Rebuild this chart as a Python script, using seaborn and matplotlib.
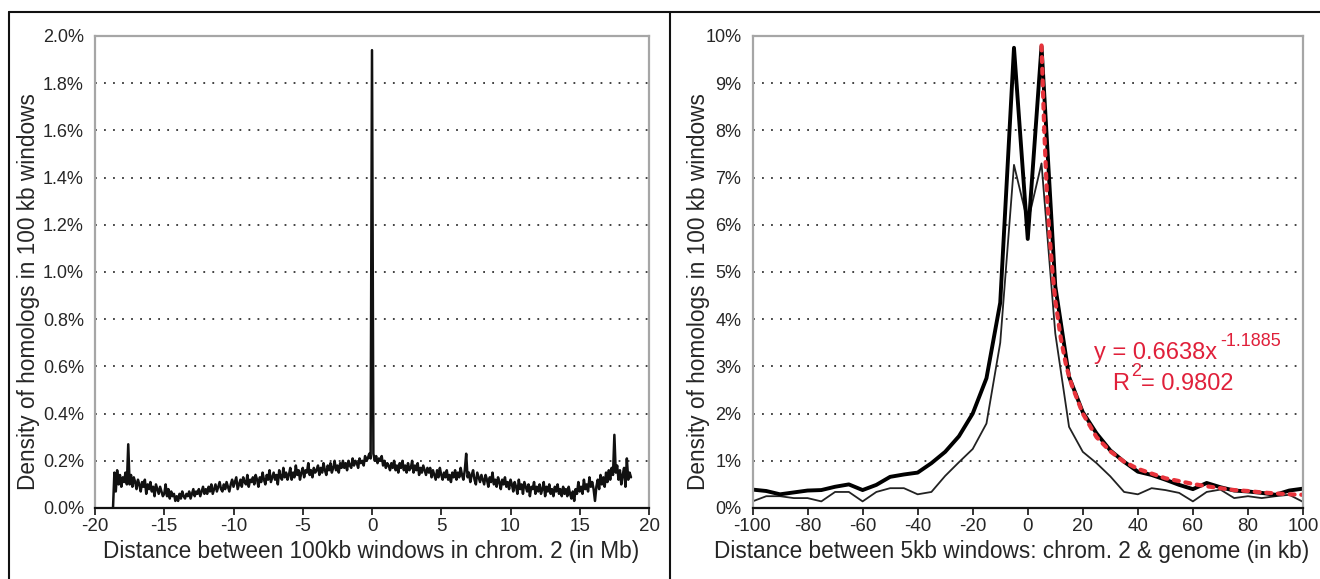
import numpy as np
import pandas as pd
import matplotlib
matplotlib.use("Agg")
import matplotlib.pyplot as plt
from matplotlib.lines import Line2D
import seaborn as sns

# ---------------- data ----------------
# Left panel: density (%) of homologs vs distance (Mb), 100 kb steps from -18.7 to 18.7
left_step_mb = 0.1
left_density = [
    0.00,
    0.15, 0.07, 0.16, 0.10, 0.14, 0.09, 0.13, 0.11, 0.15, 0.10,
    0.27,
    0.10, 0.14, 0.09, 0.13, 0.11, 0.08, 0.12, 0.10, 0.07, 0.11, 0.09, 0.12, 0.06,
    0.10, 0.08, 0.11, 0.07, 0.09, 0.05, 0.10, 0.08, 0.06, 0.09, 0.07, 0.05,
    0.06, 0.10, 0.05, 0.08, 0.04, 0.07, 0.05, 0.06, 0.03, 0.05,
    0.03, 0.06, 0.04, 0.07, 0.05, 0.04, 0.06, 0.05, 0.07, 0.04, 0.06, 0.08, 0.05, 0.07, 0.06, 0.08, 0.05, 0.07, 0.09, 0.06,
    0.08, 0.06, 0.09, 0.07, 0.10, 0.06, 0.08, 0.10, 0.07, 0.09, 0.11, 0.08, 0.07, 0.10, 0.08, 0.11, 0.09, 0.07, 0.10, 0.12,
    0.09, 0.11, 0.13, 0.08, 0.10, 0.12, 0.09, 0.13, 0.11, 0.10, 0.14, 0.09, 0.12, 0.11, 0.13, 0.10, 0.14, 0.12, 0.09, 0.13,
    0.11, 0.15, 0.12, 0.10, 0.14, 0.12, 0.16, 0.11, 0.13, 0.15, 0.12, 0.14, 0.10, 0.16, 0.13, 0.12, 0.17, 0.13, 0.15, 0.12,
    0.14, 0.17, 0.12, 0.15, 0.13, 0.18, 0.14, 0.16, 0.12, 0.15, 0.17, 0.13, 0.16, 0.15, 0.19, 0.14, 0.16, 0.13, 0.17, 0.15,
    0.16, 0.18, 0.14, 0.17, 0.15, 0.19, 0.16, 0.14, 0.18, 0.16, 0.19, 0.15, 0.17, 0.20, 0.16, 0.18, 0.15, 0.19, 0.17, 0.20,
    0.17, 0.19, 0.16, 0.20, 0.18, 0.17, 0.21, 0.18, 0.20, 0.19, 0.17, 0.21, 0.19, 0.20, 0.18, 0.22, 0.20, 0.21, 0.23, 0.21,
    1.94,
    0.23, 0.20, 0.22, 0.19, 0.21, 0.20, 0.22, 0.18, 0.20, 0.17, 0.19, 0.18, 0.16, 0.19, 0.17, 0.20, 0.16, 0.18, 0.15, 0.19,
    0.17, 0.20, 0.16, 0.18, 0.15, 0.19, 0.16, 0.17, 0.20, 0.15, 0.18, 0.16, 0.19, 0.14, 0.17, 0.15, 0.18, 0.16, 0.14, 0.17,
    0.15, 0.17, 0.13, 0.16, 0.14, 0.12, 0.16, 0.13, 0.17, 0.14, 0.12, 0.15, 0.13, 0.16, 0.12, 0.14, 0.11, 0.15, 0.13, 0.16,
    0.12, 0.15, 0.13, 0.17, 0.14, 0.12, 0.16, 0.23, 0.13, 0.15, 0.11, 0.14, 0.16, 0.12, 0.10, 0.15, 0.13, 0.11, 0.14, 0.12,
    0.10, 0.14, 0.12, 0.09, 0.13, 0.11, 0.15, 0.10, 0.12, 0.09, 0.13, 0.11, 0.08, 0.12, 0.10, 0.13, 0.09, 0.11, 0.08, 0.12,
    0.10, 0.07, 0.11, 0.09, 0.06, 0.12, 0.08, 0.10, 0.06, 0.11, 0.09, 0.07, 0.10, 0.05, 0.09, 0.08, 0.11, 0.06, 0.09, 0.07,
    0.10, 0.06, 0.08, 0.11, 0.05, 0.09, 0.07, 0.10, 0.06, 0.08, 0.05, 0.09, 0.07, 0.10, 0.06, 0.08, 0.05, 0.09, 0.06, 0.08,
    0.05, 0.09, 0.06, 0.04, 0.07, 0.03, 0.08, 0.06, 0.11, 0.07, 0.09, 0.06, 0.12, 0.08, 0.10, 0.07, 0.13, 0.09, 0.11, 0.08,
    0.03, 0.09, 0.12, 0.08, 0.14, 0.10, 0.13, 0.09, 0.15, 0.11, 0.16, 0.12, 0.17, 0.14,
    0.31,
    0.15, 0.18, 0.12, 0.16, 0.10, 0.14, 0.17, 0.09, 0.21, 0.12, 0.15, 0.13,
]
left_xticks = [-20, -15, -10, -5, 0, 5, 10, 15, 20]
left_yticks = [0.0, 0.2, 0.4, 0.6, 0.8, 1.0, 1.2, 1.4, 1.6, 1.8, 2.0]

# Right panel: distance (kb) in 5 kb windows
right_distance_kb = [-100, -95, -90, -85, -80, -75, -70, -65, -60, -55, -50, -45, -40, -35, -30,
                     -25, -20, -15, -10, -5, 0, 5, 10, 15, 20, 25, 30, 35, 40, 45, 50, 55, 60,
                     65, 70, 75, 80, 85, 90, 95, 100]
thick_density = [0.39, 0.36, 0.29, 0.33, 0.37, 0.38, 0.45, 0.50, 0.38, 0.49, 0.66, 0.71, 0.75, 0.95, 1.19,
                 1.52, 2.00, 2.75, 4.35, 9.75, 5.70, 9.78, 4.70, 2.78, 2.03, 1.58, 1.22, 0.98, 0.77, 0.70,
                 0.60, 0.49, 0.40, 0.53, 0.44, 0.37, 0.35, 0.32, 0.28, 0.37, 0.41]
thin_density = [0.14, 0.25, 0.25, 0.21, 0.21, 0.14, 0.34, 0.34, 0.14, 0.34, 0.42, 0.42, 0.29, 0.34, 0.68,
                0.97, 1.25, 1.79, 3.50, 7.27, 6.05, 7.30, 3.70, 1.72, 1.19, 0.95, 0.67, 0.34, 0.29, 0.42,
                0.38, 0.32, 0.14, 0.34, 0.39, 0.21, 0.25, 0.21, 0.25, 0.28, 0.13]
fit_distance_kb = [5, 6, 7, 8, 9, 10, 12, 14, 16, 18, 20, 25, 30, 35, 40, 45, 50, 55, 60, 65, 70, 75,
                   80, 85, 90, 95, 100]
fit_density = [9.80, 8.00, 6.60, 5.70, 5.00, 4.40, 3.60, 3.00, 2.60, 2.30, 2.00, 1.50, 1.20, 0.98, 0.83,
               0.73, 0.63, 0.57, 0.51, 0.46, 0.42, 0.38, 0.36, 0.33, 0.31, 0.29, 0.28]
right_xticks = [-100, -80, -60, -40, -20, 0, 20, 40, 60, 80, 100]
right_yticks = [0, 1, 2, 3, 4, 5, 6, 7, 8, 9, 10]

ylabel_text = "Density of homologs in 100 kb windows"
left_xlabel = "Distance between 100kb windows in chrom. 2 (in Mb)"
right_xlabel = "Distance between 5kb windows: chrom. 2 & genome (in kb)"
fit_eq_base = "y = 0.6638x"
fit_eq_exp = "-1.1885"
fit_r2_base = "R"
fit_r2_exp = "2"
fit_r2_val = "= 0.9802"

# ---------------- style ----------------
sns.set_theme(style="white")
plt.rcParams["font.family"] = ["Liberation Sans", "DejaVu Sans"]
plt.rcParams["axes.unicode_minus"] = False

n_left = len(left_density)
left_distance = np.round((np.arange(n_left) - (n_left - 1) / 2) * left_step_mb, 1)
df_left = pd.DataFrame({"dist": left_distance, "dens": left_density})
df_right = pd.DataFrame({"dist": right_distance_kb, "thick": thick_density, "thin": thin_density})
df_fit = pd.DataFrame({"dist": fit_distance_kb, "fit": fit_density})

fig = plt.figure(figsize=(13.2, 5.79), dpi=100)
W, H = 1320, 579

def px_axes(l, r, t, b):
    return fig.add_axes([l / W, 1 - b / H, (r - l) / W, (b - t) / H])

axL = px_axes(95, 649, 36, 508)
axR = px_axes(752.5, 1303, 36, 508)

tick_font = dict(family=["Liberation Sans Narrow", "Liberation Sans"], size=13.5)
grid_style = dict(color="#333333", linestyle=(0, (1, 4)), linewidth=1.3)

def style_axes(ax, xticks, yticks, xlim, ylim, yfmt, xlabel, xlab_x, ylab_x):
    ax.set_xlim(*xlim)
    ax.set_ylim(*ylim)
    ax.set_xticks(xticks)
    ax.set_yticks(yticks)
    ax.set_xticklabels([str(t) for t in xticks], **tick_font)
    ax.set_yticklabels([yfmt(t) for t in yticks], fontsize=13)
    for t in yticks[1:-1]:
        ax.axhline(t, zorder=0, **grid_style)
    for side in ["top", "left", "right"]:
        ax.spines[side].set_color("#a6a6a6")
        ax.spines[side].set_linewidth(1.6)
        ax.spines[side].set_visible(True)
    ax.spines["bottom"].set_color("#111111")
    ax.spines["bottom"].set_linewidth(1.6)
    ax.spines["bottom"].set_visible(True)
    ax.tick_params(axis="x", direction="out", length=5, width=1.2, color="#111111",
                   pad=2, bottom=True)
    ax.tick_params(axis="y", length=0, pad=8, left=True)
    ax.grid(False)
    ax.set_xlabel(xlabel, fontsize=16.3)
    ax.set_ylabel(ylabel_text, fontsize=16.3)
    ax.xaxis.label.set_va("center")
    ax.yaxis.label.set_va("center")
    ax.xaxis.set_label_coords(xlab_x, -0.093)
    ax.yaxis.set_label_coords(ylab_x, 0.458)

sns.lineplot(data=df_left, x="dist", y="dens", ax=axL, color="#111111", linewidth=1.8)
style_axes(axL, left_xticks, left_yticks, (-20, 20), (0, 2.0),
           lambda v: f"{v:.1f}%", left_xlabel, (371 - 95) / 554, (28 - 95) / 554)

sns.lineplot(data=df_right, x="dist", y="thin", ax=axR, color="#222222", linewidth=1.3)
sns.lineplot(data=df_right, x="dist", y="thick", ax=axR, color="#000000", linewidth=2.8)
sns.lineplot(data=df_fit, x="dist", y="fit", ax=axR, color="#e8343c", linewidth=3.0,
             linestyle=(0, (1.2, 1.6)))
axR.get_lines()[-1].set_dash_capstyle("round")
style_axes(axR, right_xticks, right_yticks, (-100, 100), (0, 10),
           lambda v: f"{v:d}%", right_xlabel, (1012 - 752.5) / 550.5, (698 - 752.5) / 550.5)

# fit annotation (pixel positions converted to figure fractions)
red = "#e0203a"
def ftext(x, y, s, size):
    fig.text(x / W, 1 - y / H, s, fontsize=size, color=red, va="center", ha="left")

ftext(1094, 353, fit_eq_base, 17)
ftext(1220, 341, fit_eq_exp, 13)
ftext(1112, 384, fit_r2_base, 17)
ftext(1131, 372, fit_r2_exp, 13)
ftext(1141, 384, fit_r2_val, 17)

# outer frame lines
frame_kw = dict(color="#111111", linewidth=1.5, transform=fig.transFigure)
fig.add_artist(Line2D([9 / W, 1.0], [1 - 12 / H, 1 - 12 / H], **frame_kw))
fig.add_artist(Line2D([9 / W, 9 / W], [0, 1 - 12 / H], **frame_kw))
fig.add_artist(Line2D([670 / W, 670 / W], [0, 1 - 12 / H], **frame_kw))

fig.savefig("out.png", dpi=100)
